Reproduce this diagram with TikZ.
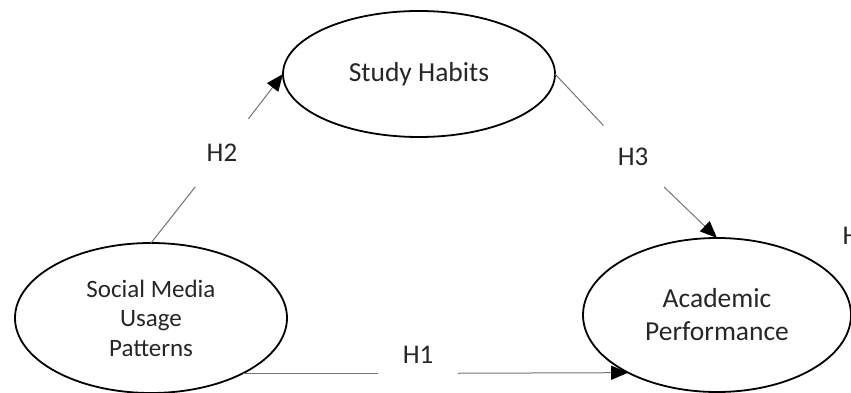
\documentclass[tikz,border=0pt]{standalone}
\usepackage{fontspec}
\setmainfont{Carlito}
\usetikzlibrary{shapes.geometric,arrows.meta}

\begin{document}
\begin{tikzpicture}[x=1pt,y=-1pt,
    construct/.style={ellipse, draw=black, line width=1.8pt, inner sep=0pt, outer sep=0pt,
                      align=center, text=black!85, font=\fontsize{27.5}{33}\selectfont},
    hyp/.style={circle, inner sep=0pt, minimum size=86pt, text=black!85, font=\fontsize{27}{32}\selectfont},
    link/.style={draw=black!55, line width=1pt},
    arrowlink/.style={link, -{Triangle[length=17pt,width=14pt,color=black]}}
  ]

      % Definitions
      \def\lw{272}    % Width of the upper and left ellipses
      \def\gap{80}    % Width of the gap round the H1 label

      \useasboundingbox (0,0) rectangle (851,393);

      % Constructs
      \node [construct, minimum width=\lw pt, minimum height=126pt] (study) at (419,74) {Study Habits};
      \node [construct, minimum width=\lw pt, minimum height=150pt, font=\fontsize{25}{29.5}\selectfont] (smu) at (151,318) {Social Media\\Usage\\Patterns};
      \node [construct, minimum width=268pt, minimum height=154pt] (ap) at (717,315) {Academic\\Performance};

      % Hypotheses labels
      \node [hyp] (h2) at (222,153) {H2};
      \node [hyp] (h3) at (633,157) {H3};
      \node [hyp, circle=false, rectangle, minimum width=\gap pt, minimum height=20pt] (h1) at (418,355) {H1};
      \node [anchor=base west, text=black!85, font=\fontsize{27}{32}\selectfont] (h4) at (839,244) {H};

      % Draw commands
      \draw [link] (smu.north) -- (h2);
      \draw [arrowlink] (h2) -- (study.west);

      \draw [link] (study.east) -- (h3);
      \draw [arrowlink] (h3) -- (ap.north);

      \draw [link] (smu.-31) -- (smu.-31 -| h1.west);      % Line broken round the H1 label
      \draw [arrowlink] (smu.-31 -| h1.east) -- (ap.213);

   \end{tikzpicture}
\end{document}
